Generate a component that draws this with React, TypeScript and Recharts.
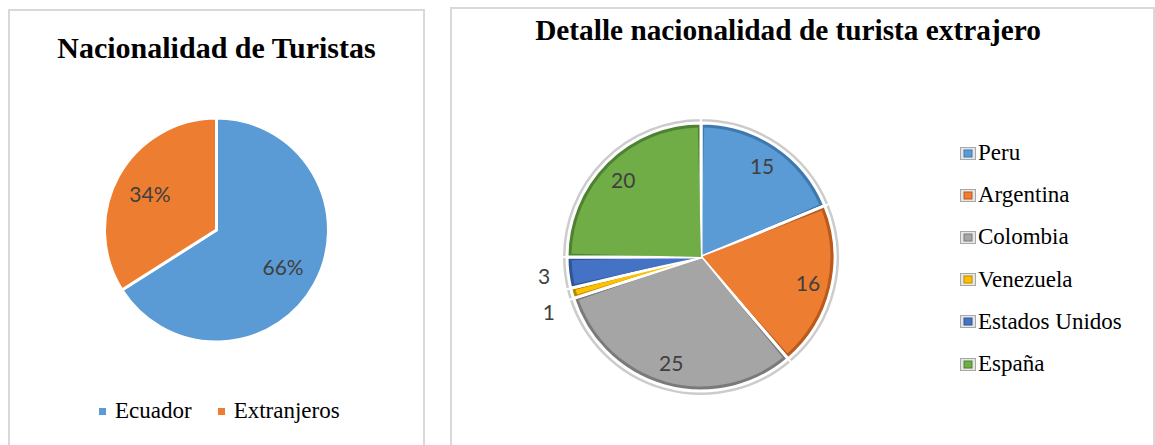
import React from 'react'
import { PieChart, Pie, Cell, Legend, Sector } from 'recharts'

// Nacionalidad de turistas (%)
const touristGroups = ['Ecuador', 'Extranjeros']
const touristShares = [66, 34]
const touristColors = ['#5B9BD5', '#ED7D31']

// Detalle de turistas extranjeros
const countries = ['Peru', 'Argentina', 'Colombia', 'Venezuela', 'Estados Unidos', 'España']
const countryCounts = [15, 16, 25, 1, 3, 20]
const countryColors = ['#5B9BD5', '#ED7D31', '#A5A5A5', '#FFC000', '#4472C4', '#70AD47']
const countryEdges = ['#3E78AE', '#B95A1C', '#7A7A7A', '#B88A00', '#2D5496', '#4E8231']

const RADIAN = Math.PI / 180
const serif = '"Liberation Serif", "Times New Roman", serif'
const labelFont = 'Lato, "Open Sans", sans-serif'

const shareData = touristGroups.map((name, i) => ({ name, value: touristShares[i] }))
const countryData = countries.map((name, i) => ({ name, value: countryCounts[i], edge: countryEdges[i] }))

const renderShareLabel = (props: any) => {
  const { cx, cy, midAngle, value } = props
  const r = 76
  const x = cx + r * Math.cos(-midAngle * RADIAN)
  const y = cy + r * Math.sin(-midAngle * RADIAN)
  return (
    <text x={x} y={y} textAnchor="middle" dominantBaseline="central" fill="#404040" fontSize={21} fontFamily={labelFont}>
      {value}%
    </text>
  )
}

const renderCountryLabel = (props: any) => {
  const { cx, cy, midAngle, value } = props
  // las porciones pequeñas llevan la etiqueta por fuera
  const r = value < 5 ? 158 : 110
  const x = cx + r * Math.cos(-midAngle * RADIAN)
  let y = cy + r * Math.sin(-midAngle * RADIAN)
  if (value < 2) y += 12 // separar de la etiqueta vecina
  return (
    <text x={x} y={y} textAnchor="middle" dominantBaseline="central" fill="#404040" fontSize={21} fontFamily={labelFont}>
      {value}
    </text>
  )
}

// porción con borde interior oscuro (imitación del bisel)
const BevelSector = (props: any) => {
  const { cx, cy, outerRadius, startAngle, endAngle, fill, payload } = props
  const edge = (payload && payload.edge) || fill
  const span = Math.abs(endAngle - startAngle)
  const inset = Math.min(1.4, span / 4)
  const dir = endAngle < startAngle ? -1 : 1
  return (
    <g>
      <Sector cx={cx} cy={cy} innerRadius={0} outerRadius={outerRadius} startAngle={startAngle} endAngle={endAngle}
        fill={edge} stroke="#ffffff" strokeWidth={3} />
      <Sector cx={cx} cy={cy} innerRadius={0} outerRadius={outerRadius - 4.5}
        startAngle={startAngle + dir * inset} endAngle={endAngle - dir * inset} fill={fill} stroke="none" />
    </g>
  )
}

const ShareLegend = () => (
  <div style={{ display: 'flex', alignItems: 'center', fontFamily: serif, fontSize: 23, color: '#000' }}>
    {touristGroups.map((g, i) => (
      <div key={g} style={{ display: 'flex', alignItems: 'center', marginRight: i === 0 ? 26 : 0 }}>
        <span style={{ width: 7, height: 7, background: touristColors[i], marginRight: 9, display: 'inline-block' }} />
        <span style={{ fontFamily: serif }}>{g}</span>
      </div>
    ))}
  </div>
)

const CountryLegend = () => (
  <div style={{ fontFamily: serif, fontSize: 23, color: '#000' }}>
    {countries.map((c, i) => (
      <div key={c} style={{ display: 'flex', alignItems: 'center', height: 42.2 }}>
        <svg width={16} height={13} style={{ marginRight: 2 }}>
          <rect x={0.5} y={0.5} width={15} height={12} fill="#e6e6e6" stroke="#a8a8a8" />
          <rect x={4} y={3} width={8} height={7} fill={countryColors[i]} stroke={countryEdges[i]} strokeWidth={1} />
        </svg>
        <span style={{ fontFamily: serif }}>{c}</span>
      </div>
    ))}
  </div>
)

const panelBorder: React.CSSProperties = {
  position: 'absolute',
  border: '2px solid #d9d9d9',
  borderBottom: 'none',
  boxSizing: 'border-box',
  background: '#fff',
}

export default function App() {
  return (
    <div style={{ position: 'absolute', left: 0, top: 0, width: 1155, height: 445, overflow: 'hidden', background: '#fff' }}>
      {/* Panel izquierdo */}
      <div style={{ ...panelBorder, left: 8, top: 9, width: 417, height: 440 }} />
      <div
        style={{
          position: 'absolute', left: 8, top: 33, width: 417, textAlign: 'center',
          fontFamily: serif, fontWeight: 'bold', fontSize: 30, lineHeight: '30px', color: '#000',
        }}
      >
        Nacionalidad de Turistas
      </div>
      <div style={{ position: 'absolute', left: 8, top: 9 }}>
        <PieChart width={417} height={436} margin={{ top: 0, right: 0, bottom: 0, left: 0 }}>
          <Pie
            data={shareData}
            dataKey="value"
            cx={208.5}
            cy={221}
            outerRadius={112}
            startAngle={90}
            endAngle={-270}
            stroke="#ffffff"
            strokeWidth={3}
            labelLine={false}
            label={renderShareLabel}
            isAnimationActive={false}
          >
            {shareData.map((d, i) => (
              <Cell key={d.name} fill={touristColors[i]} />
            ))}
          </Pie>
          <Legend content={<ShareLegend />} wrapperStyle={{ position: 'absolute', left: 91, top: 389, width: 320 }} />
        </PieChart>
      </div>

      {/* Panel derecho */}
      <div style={{ ...panelBorder, left: 450, top: 7, width: 705, height: 442 }} />
      <div
        style={{
          position: 'absolute', left: 535, top: 15, width: 506, textAlign: 'center', whiteSpace: 'nowrap',
          fontFamily: serif, fontWeight: 'bold', fontSize: 29.3, lineHeight: '30px', color: '#000',
        }}
      >
        Detalle nacionalidad de turista extrajero
      </div>
      <div style={{ position: 'absolute', left: 450, top: 7 }}>
        <PieChart width={705} height={438} margin={{ top: 0, right: 0, bottom: 0, left: 0 }}>
          {/* marco exterior gris */}
          <Pie
            data={countryData}
            dataKey="value"
            cx={251}
            cy={250}
            outerRadius={139}
            startAngle={90}
            endAngle={-270}
            fill="#cccccc"
            stroke="#ffffff"
            strokeWidth={2}
            label={false}
            labelLine={false}
            isAnimationActive={false}
          />
          <Pie
            data={countryData}
            dataKey="value"
            cx={251}
            cy={250}
            outerRadius={134}
            startAngle={90}
            endAngle={-270}
            stroke="#ffffff"
            strokeWidth={3}
            labelLine={false}
            label={renderCountryLabel}
            shape={BevelSector}
            isAnimationActive={false}
          >
            {countryData.map((d, i) => (
              <Cell key={d.name} fill={countryColors[i]} />
            ))}
          </Pie>
          <Legend content={<CountryLegend />} wrapperStyle={{ position: 'absolute', left: 510, top: 125, width: 190 }} />
        </PieChart>
      </div>
    </div>
  )
}
